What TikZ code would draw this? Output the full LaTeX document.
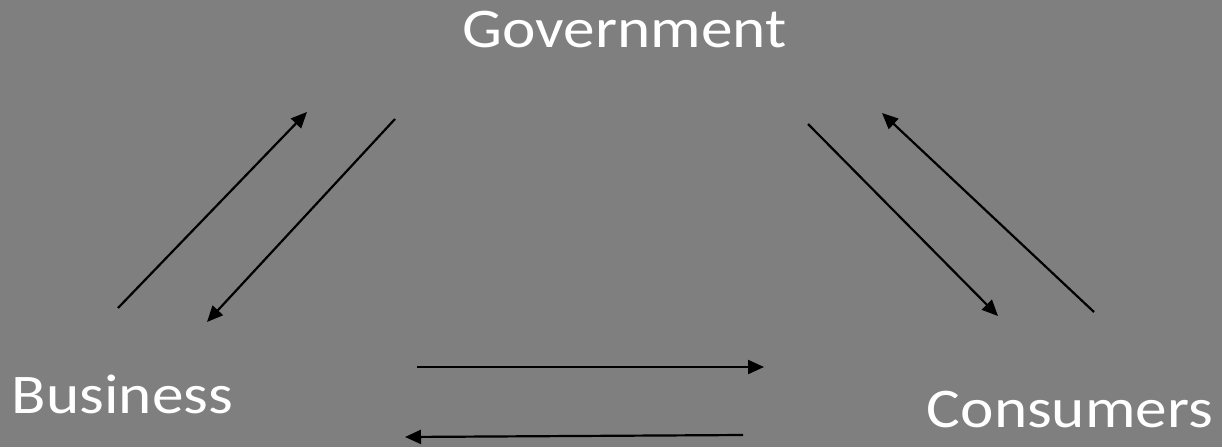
\documentclass[tikz,border=0pt]{standalone}
\usepackage{fontspec}
\setmainfont{Carlito}
\newfontfamily\widefont[FakeStretch=1.13]{Carlito}
\usetikzlibrary{arrows.meta}
\definecolor{bg}{HTML}{7F7F7F}
\tikzset{
  lbl/.style={text=white, anchor=base, inner sep=0pt, font=\widefont\fontsize{56}{60}\selectfont},
  flow/.style={draw=black, line width=2.2pt, -{Triangle[length=16pt,width=14pt]}}
}
\begin{document}
\begin{tikzpicture}[x=1pt,y=-1pt]
\fill[bg] (0,0) rectangle (1222,447);
\useasboundingbox (0,0) rectangle (1222,447);
\node[lbl] (gov) at (624.5,47) {Government};
\node[lbl] (bus) at (122.5,413) {Business};
\node[lbl] (con) at (1070,427) {Consumers};
\coordinate (a1s) at (118,308); \coordinate (a1e) at (307,112);
\coordinate (a2s) at (395,119); \coordinate (a2e) at (207,322);
\coordinate (a3s) at (808,124); \coordinate (a3e) at (998,316);
\coordinate (a4s) at (1094,312); \coordinate (a4e) at (882,113);
\coordinate (a5s) at (417,367); \coordinate (a5e) at (764,367);
\coordinate (a6s) at (743,435); \coordinate (a6e) at (405,437);
\draw[flow] (a1s) -- (a1e);
\draw[flow] (a2s) -- (a2e);
\draw[flow] (a3s) -- (a3e);
\draw[flow] (a4s) -- (a4e);
\draw[flow] (a5s) -- (a5e);
\draw[flow] (a6s) -- (a6e);
\end{tikzpicture}
\end{document}
